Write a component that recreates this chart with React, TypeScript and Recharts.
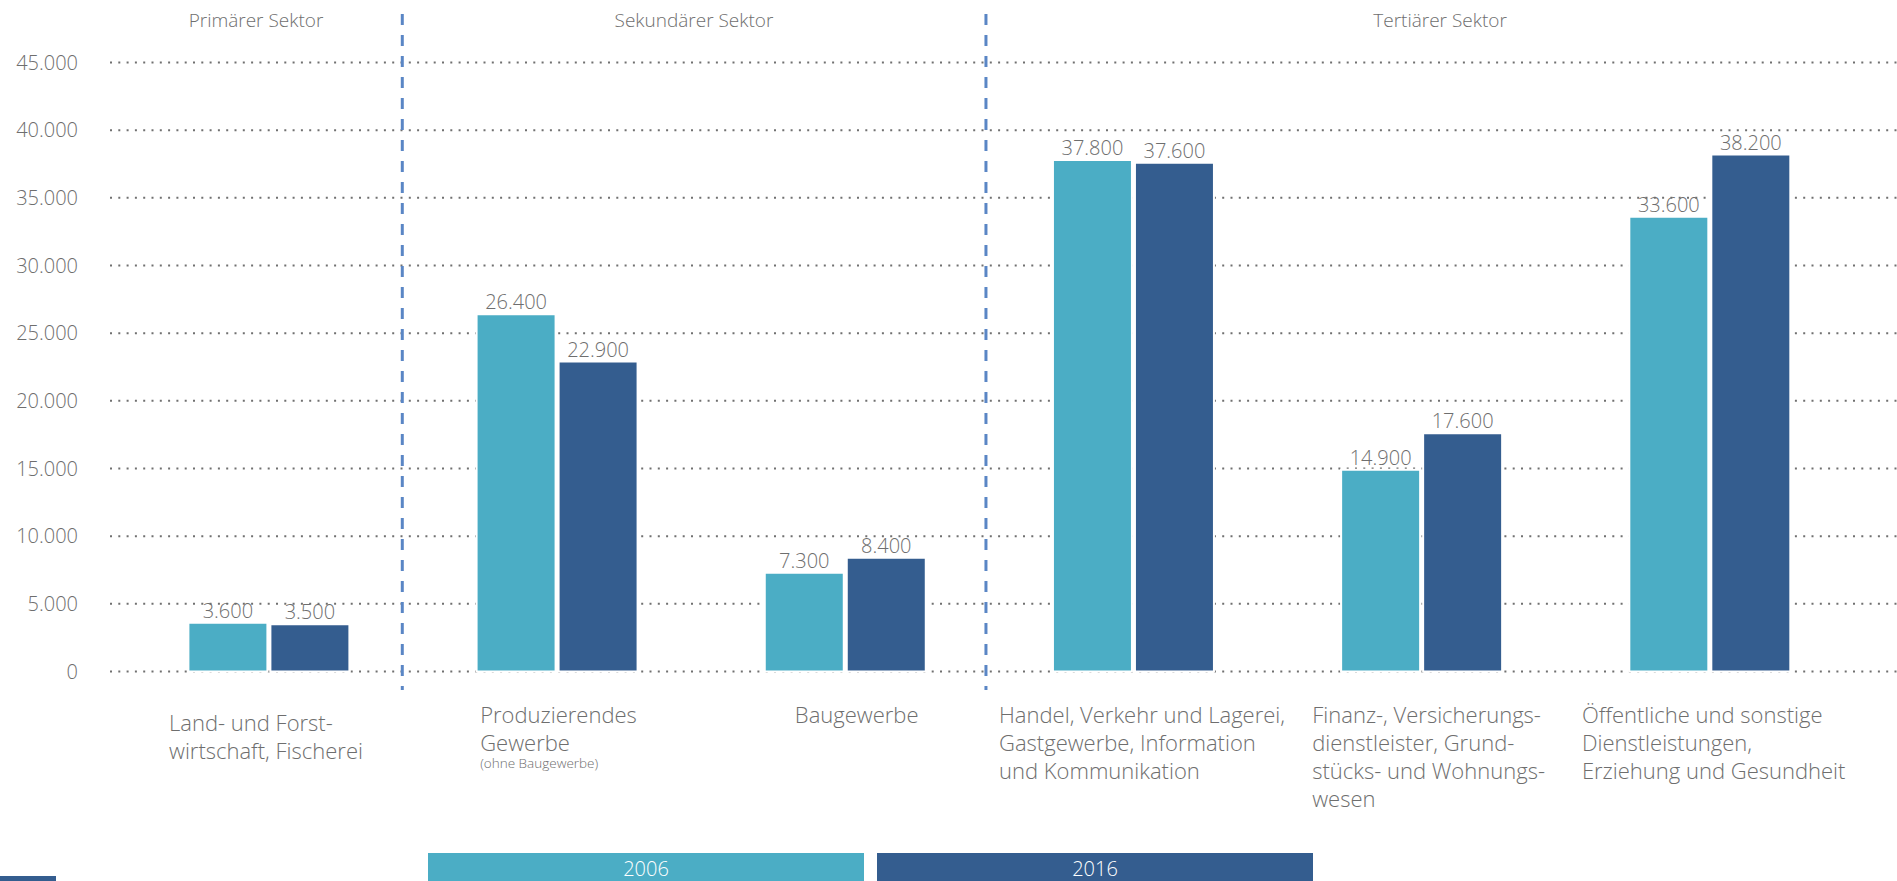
import { Bar, BarChart, CartesianGrid, LabelList, Legend, ReferenceLine, XAxis, YAxis } from "recharts"

const sectors = ["Primärer Sektor", "Sekundärer Sektor", "Tertiärer Sektor"]

const categoryLines = [
  ["Land- und Forst-", "wirtschaft, Fischerei"],
  ["Produzierendes", "Gewerbe"],
  ["Baugewerbe"],
  ["Handel, Verkehr und Lagerei,", "Gastgewerbe, Information", "und Kommunikation"],
  ["Finanz-, Versicherungs-", "dienstleister, Grund-", "stücks- und Wohnungs-", "wesen"],
  ["Öffentliche und sonstige", "Dienstleistungen,", "Erziehung und Gesundheit"],
]
const categoryNotes = ["", "(ohne Baugewerbe)", "", "", "", ""]

const values2006 = [3600, 26400, 7300, 37800, 14900, 33600]
const values2016 = [3500, 22900, 8400, 37600, 17600, 38200]

const yTicks = [0, 5000, 10000, 15000, 20000, 25000, 30000, 35000, 40000, 45000]

const data = categoryLines.map((lines, i) => ({
  name: lines.join(" "),
  v2006: values2006[i],
  v2016: values2016[i],
}))

// sector headers and dividers hang off a category tick, shifted in px
const headerAnchor = [
  { cat: 0, dx: -12.5 },
  { cat: 1, dx: 137.3 },
  { cat: 4, dx: 18.8 },
]
const dividerAnchor = [
  { cat: 0, dx: 133.8 },
  { cat: 2, dx: 141.1 },
]
// left edge of each category label relative to the tick, plus extra drop
const labelShift = [-99.5, -76.5, -50, -134, -109, -127.5]
const labelDrop = [8, 0, 0, 0, 0, 0]

const TEAL = "#4badc5"
const NAVY = "#345d8f"
const TEXT = "#6e6e6e"
const FONT = "'Open Sans', sans-serif"
const axisPadding = { left: 14.4, right: 43.5 }

const fmt = (v: number) => String(v).replace(/\B(?=(\d{3})+(?!\d))/g, ".")

const legendItems = [
  { name: "2006", color: TEAL },
  { name: "2016", color: NAVY },
]

function CategoryTick(props: any) {
  const { x, y, index } = props
  const lines = categoryLines[index]
  const left = x + labelShift[index]
  const top = y + 51 + labelDrop[index]
  const note = categoryNotes[index]
  return (
    <g>
      <text x={left} y={top} fill={TEXT} fontSize={22} textAnchor="start">
        {lines.map((l, k) => (
          <tspan key={k} x={left} dy={k === 0 ? 0 : 28}>
            {l}
          </tspan>
        ))}
      </text>
      {note && (
        <text x={left} y={top + (lines.length - 1) * 28 + 17} fill={TEXT} fontSize={13.5} textAnchor="start">
          {note}
        </text>
      )}
    </g>
  )
}

function Divider(p: any) {
  const x = p.x1 + p.dx
  return (
    <line
      x1={x}
      x2={x}
      y1={Math.min(p.y1, p.y2) - 48.5}
      y2={Math.max(p.y1, p.y2) + 18.5}
      stroke="#5a86c5"
      strokeWidth={3}
      strokeDasharray="11 10"
    />
  )
}

function LegendBoxes() {
  return (
    <div style={{ display: "flex", gap: 13 }}>
      {legendItems.map((s) => (
        <div
          key={s.name}
          style={{
            width: 436,
            height: 32,
            lineHeight: "32px",
            background: s.color,
            color: "#fff",
            fontSize: 20,
            textAlign: "center",
            fontFamily: FONT,
          }}
        >
          {s.name}
        </div>
      ))}
    </div>
  )
}

export default function App() {
  return (
    <div
      style={{
        position: "relative",
        width: 1897,
        height: 881,
        overflow: "hidden",
        fontFamily: FONT,
        fontWeight: 300,
        background: "#fff",
      }}
    >
      <style>{"html,body{margin:0;overflow:hidden}"}</style>
      <BarChart
        width={1897}
        height={881}
        data={data}
        barGap={3}
        margin={{ top: 62.5, right: 0, bottom: 0, left: 0 }}
      >
        <CartesianGrid vertical={false} stroke="#707070" strokeWidth={2} strokeDasharray="2 6.3" />
        <XAxis
          dataKey="name"
          interval={0}
          height={209.5}
          tickSize={0}
          tickMargin={0}
          axisLine={false}
          tickLine={false}
          padding={axisPadding}
          tick={<CategoryTick />}
        />
        <YAxis
          domain={[0, 45000]}
          ticks={yTicks}
          width={110}
          tickSize={0}
          tickMargin={32}
          axisLine={false}
          tickLine={false}
          tickFormatter={fmt}
          tick={{ fill: TEXT, fontSize: 20 }}
        />
        {dividerAnchor.map((d) => (
          <ReferenceLine
            key={d.cat}
            x={data[d.cat].name}
            shape={(p: any) => <Divider {...p} dx={d.dx} />}
          />
        ))}
        {sectors.map((s, i) => (
          <ReferenceLine
            key={s}
            x={data[headerAnchor[i].cat].name}
            stroke="none"
            label={(p: any) => (
              <text x={p.viewBox.x + headerAnchor[i].dx} y={27} textAnchor="middle" fill={TEXT} fontSize={19}>
                {s}
              </text>
            )}
          />
        ))}
        <Bar dataKey="v2006" name="2006" fill={TEAL} stroke="#fff" strokeWidth={2} barSize={79} isAnimationActive={false}>
          <LabelList dataKey="v2006" position="top" offset={5} formatter={fmt} fill={TEXT} fontSize={20} />
        </Bar>
        <Bar dataKey="v2016" name="2016" fill={NAVY} stroke="#fff" strokeWidth={2} barSize={79} isAnimationActive={false}>
          <LabelList dataKey="v2016" position="top" offset={5} formatter={fmt} fill={TEXT} fontSize={20} />
        </Bar>
        <Legend
          layout="horizontal"
          verticalAlign="middle"
          align="center"
          content={<LegendBoxes />}
          wrapperStyle={{ left: 428, top: 853, width: 900, height: 32 }}
        />
      </BarChart>
      <div style={{ position: "absolute", left: 0, top: 876, width: 56, height: 5, background: NAVY }} />
    </div>
  )
}
